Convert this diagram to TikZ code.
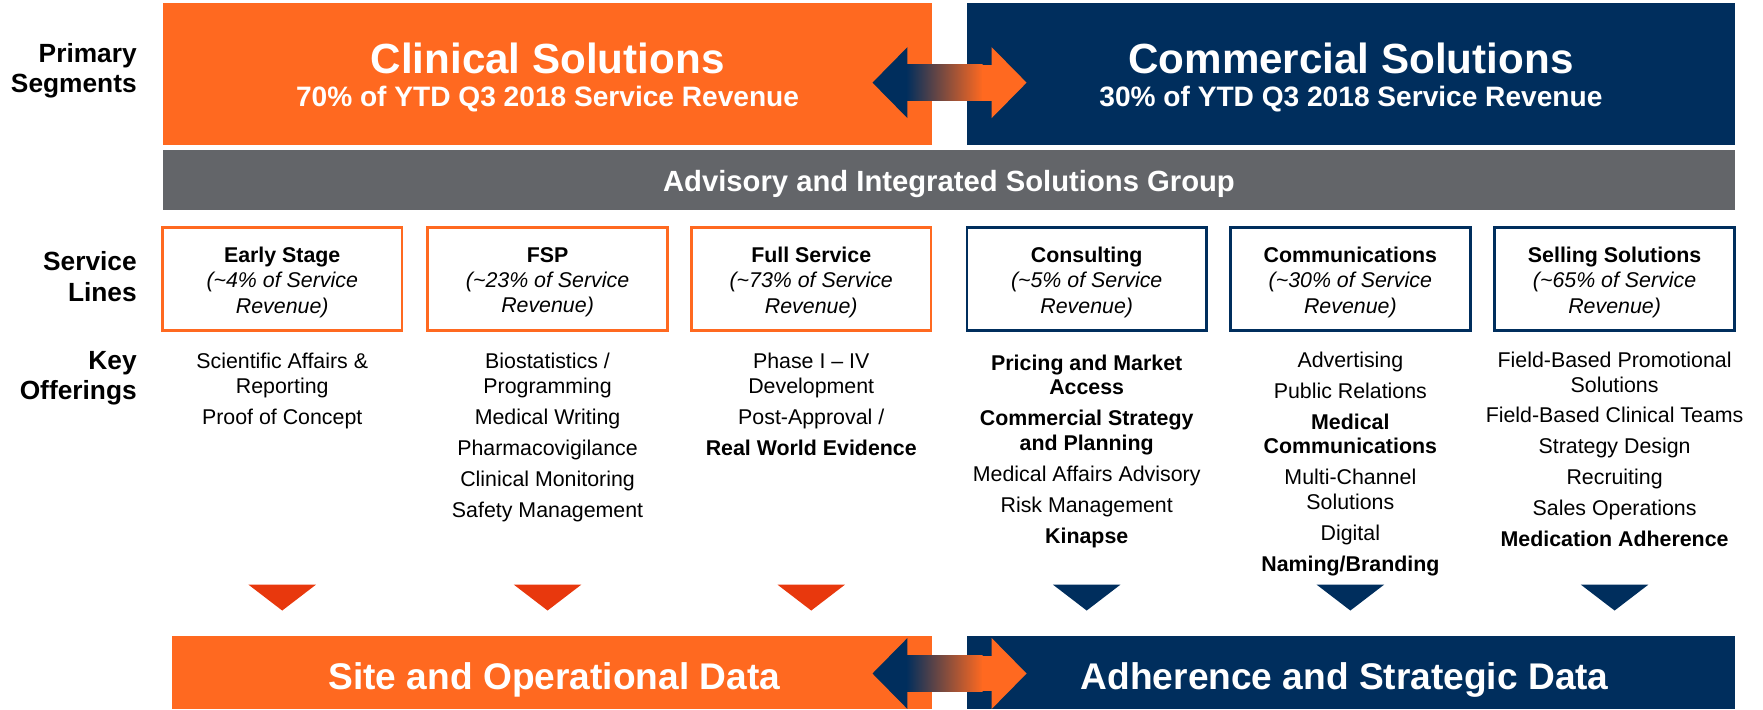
\documentclass[tikz,border=0pt]{standalone}
\usepackage{fontspec}
\setmainfont{Liberation Sans}
\definecolor{clinorange}{RGB}{255,105,32}
\definecolor{comnavy}{RGB}{0,46,93}
\definecolor{advgray}{RGB}{99,101,105}
\definecolor{trired}{RGB}{232,56,13}

% two-way arrow between the halves, centred at height #1
\newcommand{\swaparrow}[1]{%
  \fill[comnavy] (776,#1) -- (807,#1-31.5) -- (807,#1+31.5) -- cycle;
  \shade[left color=comnavy,right color=clinorange] (806,#1-16) rectangle (874,#1+16);
  \fill[clinorange] (873,#1-16) rectangle (883,#1+16);
  \fill[clinorange] (913,#1) -- (882,#1-31.5) -- (882,#1+31.5) -- cycle;}

\begin{document}
\begin{tikzpicture}[x=0.5pt,y=-0.5pt,
    rowlabel/.style={anchor=east,align=right,inner sep=0pt,font=\fontsize{11.7}{13.5}\selectfont\bfseries},
    bigtitle/.style={text=white,font=\fontsize{18.75}{20}\selectfont\bfseries},
    subtitle/.style={text=white,font=\fontsize{12.5}{14}\selectfont\bfseries},
    linebox/.style={draw,line width=1.25pt,minimum width=106.5pt,minimum height=46pt,
      align=center,inner sep=0pt,font=\fontsize{9.5}{11.25}\selectfont},
    offering/.style={anchor=north,align=center,inner sep=0pt,font=\fontsize{9.5}{11}\selectfont},
    datatext/.style={anchor=base,text=white,font=\fontsize{16.5}{18}\selectfont\bfseries}]
    \useasboundingbox (0,0) rectangle (1568,631);

    % primary segments
    \fill[clinorange] (145,3) rectangle (829,129);
    \fill[comnavy] (860,3) rectangle (1543,129);
    \node[bigtitle] (clin) at (487,52) {Clinical Solutions};
    \node[subtitle] (clinsub) at (487,88.5) {70\% of YTD Q3 2018 Service Revenue};
    \node[bigtitle] (comm) at (1201.5,52) {Commercial Solutions};
    \node[subtitle] (commsub) at (1201.5,88.5) {30\% of YTD Q3 2018 Service Revenue};
    \swaparrow{73.5}

    % advisory bar
    \fill[advgray] (145,133) rectangle (1543,187);
    \node[anchor=base,text=white,font=\fontsize{13}{15}\selectfont\bfseries] (advisory) at (844,170)
      {Advisory and Integrated Solutions Group};

    \node[rowlabel] (primary) at (122,63) {Primary\\Segments};
    \node[rowlabel] (service) at (122,246) {Service\\Lines};
    \node[rowlabel] (key) at (122,336.5) {Key\\Offerings};

    % service lines
    \foreach \cx/\col/\ttl/\pct [count=\i] in {251/clinorange/Early Stage/4,
        487/clinorange/FSP/23, 721.5/clinorange/Full Service/73,
        966.5/comnavy/Consulting/5, 1201/comnavy/Communications/30,
        1436/comnavy/Selling Solutions/65}
    {
      \node[linebox,draw=\col,minimum height=46pt] (line\i) at (\cx,248) {};
      \node[align=center,inner sep=0pt,font=\fontsize{9.5}{11.25}\selectfont] (linetext\i) at (\cx,251)
        {\textbf{\ttl}\\\textit{(\textasciitilde\pct\% of Service}\\\textit{Revenue)}};
      \fill[\ifnum\i<4 trired\else comnavy\fi] (\cx-30,520) -- (\cx+30,520) -- (\cx,543) -- cycle;
    }

    % key offerings
    \node[offering] (offer1) at (251,314)
      {Scientific Affairs \&\\Reporting\\[2.75pt]Proof of Concept};
    \node[offering] (offer2) at (487,314)
      {Biostatistics /\\Programming\\[2.75pt]Medical Writing\\[2.75pt]Pharmacovigilance\\[2.75pt]%
       Clinical Monitoring\\[2.75pt]Safety Management};
    \node[offering] (offer3) at (721.5,314)
      {Phase I \textendash{} IV\\Development\\[2.75pt]Post-Approval /\\[2.75pt]\textbf{Real World Evidence}};
    \node[offering] (offer4) at (966.5,315)
      {\textbf{Pricing and Market}\\\textbf{Access}\\[2.75pt]\textbf{Commercial Strategy}\\%
       \textbf{and Planning}\\[2.75pt]Medical Affairs Advisory\\[2.75pt]Risk Management\\[2.75pt]%
       \textbf{Kinapse}};
    \node[offering] (offer5) at (1201,312.5)
      {Advertising\\[2.75pt]Public Relations\\[2.75pt]\textbf{Medical}\\\textbf{Communications}\\[2.75pt]%
       Multi-Channel\\Solutions\\[2.75pt]Digital\\[2.75pt]\textbf{Naming/Branding}};
    \node[offering] (offer6) at (1436,312.5)
      {Field-Based Promotional\\Solutions\\[2.75pt]Field-Based Clinical Teams\\[2.75pt]%
       Strategy Design\\[2.75pt]Recruiting\\[2.75pt]Sales Operations\\[2.75pt]%
       \textbf{Medication Adherence}};

    % data bars
    \fill[clinorange] (153,566) rectangle (829,631);
    \fill[comnavy] (860,566) rectangle (1543,631);
    \node[datatext] (sitedata) at (493,613) {Site and Operational Data};
    \node[datatext] (adhdata) at (1196,613) {Adherence and Strategic Data};
    \swaparrow{599}
\end{tikzpicture}
\end{document}
